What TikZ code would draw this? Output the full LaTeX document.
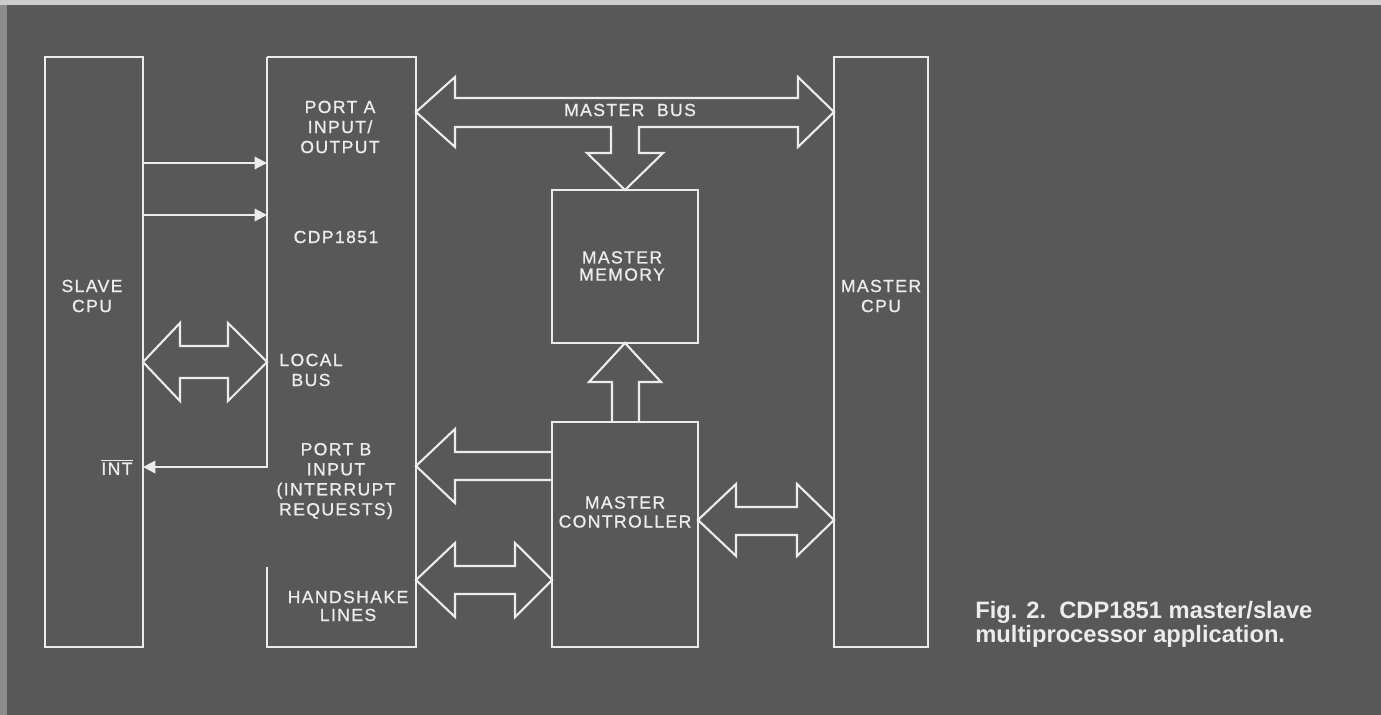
\documentclass[tikz,border=0pt]{standalone}
\usepackage{fontspec}
\usetikzlibrary{arrows.meta}
\newfontfamily\letfont[LetterSpace=8,FakeBold=1]{Liberation Sans}
\newfontfamily\capfont{Liberation Sans}
\definecolor{board}{RGB}{88,88,88}
\definecolor{ink}{RGB}{236,236,236}
\tikzset{
  blk/.style={draw=ink, line width=1.4pt, inner sep=0pt, outer sep=0pt},
  bus/.style={draw=ink, line width=1.2pt, line join=miter},
  sig/.style={draw=ink, line width=1.2pt, -{Triangle[length=7pt,width=7pt]}},
  lbl/.style={text=ink, font=\letfont\fontsize{10}{11.4}\selectfont, align=center, inner sep=0pt},
}
\begin{document}
\begin{tikzpicture}[x=0.02cm,y=-0.02cm]
\useasboundingbox (0,0) rectangle (1381,715);
\fill[board] (0,0) rectangle (1381,715);
\fill[black!20] (0,0) rectangle (1381,5);
\fill[black!45] (0,5) rectangle (7,715);

\node[blk, minimum width=1.96cm, minimum height=11.8cm] (slave) at (94,352) {};
\node[inner sep=0pt, outer sep=0pt, minimum width=2.98cm, minimum height=11.8cm] (cdp) at (341.5,352) {};
\node[blk, minimum width=2.92cm, minimum height=3.06cm] (mem) at (625,266.5) {};
\node[blk, minimum width=2.92cm, minimum height=4.5cm] (ctrl) at (625,534.5) {};
\node[blk, minimum width=1.88cm, minimum height=11.8cm] (mcpu) at (881,352) {};

\draw[blk] ([yshift=1.6cm]cdp.south west) -- (cdp.south west) -- (cdp.south east) -- (cdp.north east) -- (cdp.north west);
\draw[blk, -{Triangle[length=7pt,width=7pt]}] (cdp.north west) -- (cdp.west |- 0,467) -- (slave.east |- 0,467);
\draw[sig] (slave.east |- 0,163) -- (cdp.west |- 0,163);
\draw[sig] (slave.east |- 0,215) -- (cdp.west |- 0,215);

\draw[bus] (cdp.east |- 0,112) -- (455,77) -- (455,98) -- (798,98) -- (798,77) -- (mcpu.west |- 0,112) -- (798,147) -- (798,127) -- (639,127) -- (639,153) -- (663,153) -- (mem.north) -- (587,153) -- (611,153) -- (611,127) -- (455,127) -- (455,147) -- cycle;
\draw[bus] (612,422) -- (612,382) -- (589,382) -- (mem.south) -- (661,382) -- (639,382) -- (639,422);
\draw[bus] (ctrl.west |- 0,452) -- (455,452) -- (455,429) -- (cdp.east |- 0,466) -- (455,503) -- (455,480) -- (ctrl.west |- 0,480);
\draw[bus] (cdp.east |- 0,580) -- (455,543) -- (455,566) -- (515,566) -- (515,543) -- (ctrl.west |- 0,580) -- (515,617) -- (515,594) -- (455,594) -- (455,617) -- cycle;
\draw[bus] (ctrl.east |- 0,520) -- (736,484) -- (736,507) -- (797,507) -- (797,484) -- (mcpu.west |- 0,520) -- (797,556) -- (797,535) -- (736,535) -- (736,556) -- cycle;
\draw[bus] (slave.east |- 0,362) -- (180,323) -- (180,346) -- (228,346) -- (228,323) -- (cdp.west |- 0,362) -- (228,401) -- (228,378) -- (180,378) -- (180,401) -- cycle;

\node[lbl] (slavetxt) at (92,296) {SLAVE\\CPU};
\node[lbl] (porta) at (340,127) {PORT A\\INPUT/\\OUTPUT};
\node[lbl] (chip) at (336,237) {CDP1851};
\node[lbl] (local) at (311,370) {LOCAL\\BUS};
\node[lbl] (intn) at (117,467) {$\overline{\hbox{INT}}$};
\node[lbl] (portb) at (336,481) {PORT B\\INPUT\\(INTERRUPT\\REQUESTS)};
\node[lbl, font=\letfont\fontsize{10}{10.2}\selectfont] (hand) at (348,606) {HANDSHAKE\\LINES};
\node[lbl] (mbus) at (630,110) {MASTER\ \ BUS};
\node[lbl, font=\letfont\fontsize{10}{9.8}\selectfont] (memtxt) at (622,266) {MASTER\\MEMORY};
\node[lbl, font=\letfont\fontsize{10}{10.8}\selectfont] (ctrltxt) at (625,512) {MASTER\\CONTROLLER};
\node[lbl] (mcputxt) at (881,296) {MASTER\\CPU};
\node[anchor=north west, text=ink, font=\capfont\bfseries\fontsize{13.5}{13.6}\selectfont, align=left, inner sep=0pt] (caption) at (975,601) {Fig. 2.\ \ CDP1851 master/slave\\multiprocessor application.};
\end{tikzpicture}
\end{document}
